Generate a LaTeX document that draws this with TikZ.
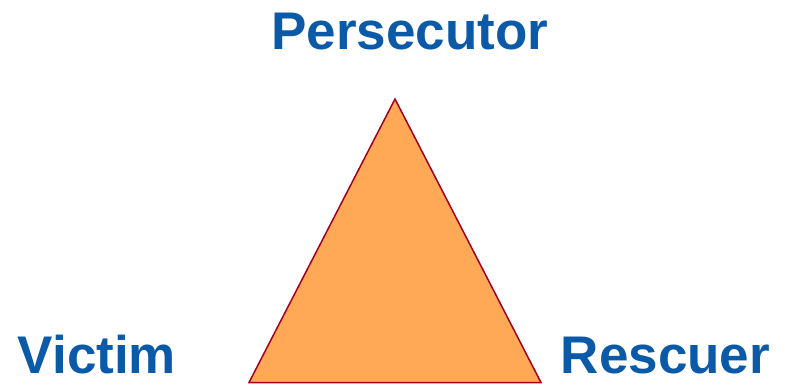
\documentclass[tikz,border=0pt]{standalone}
\usepackage{fontspec}
\setmainfont{Liberation Sans}
\definecolor{lblblue}{HTML}{0B5AA7}
\definecolor{trifill}{HTML}{FFA856}
\definecolor{tristroke}{HTML}{A50021}
\begin{document}
\begin{tikzpicture}[x=1pt,y=-1pt,
  role/.style={inner sep=0pt, anchor=base, text=lblblue, font=\fontsize{53}{60}\selectfont\bfseries}]
\useasboundingbox (0,0) rectangle (785,385);
\coordinate (top) at (395,99);
\coordinate (bl) at (249,382.5);
\coordinate (br) at (541,382.5);
\draw[fill=trifill, draw=tristroke, line width=1.5pt, line join=miter] (top) -- (br) -- (bl) -- cycle;
\node[role] (pers) at (410,50) {Persecutor};
\node[role] (vict) at (97,373) {Victim};
\node[role] (resc) at (665.5,373) {Rescuer};
\end{tikzpicture}
\end{document}
